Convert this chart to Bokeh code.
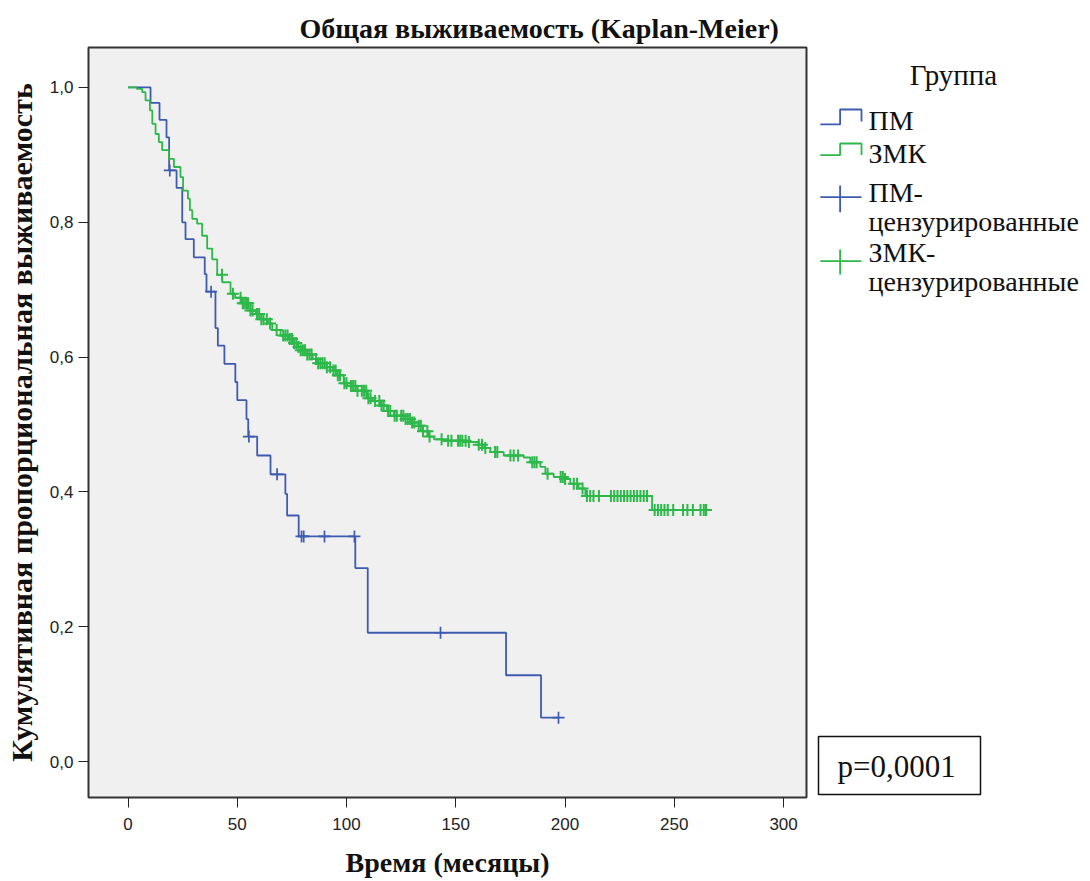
import numpy as np
from bokeh.plotting import figure
from bokeh.models import Range1d, FixedTicker, Title
from bokeh.layouts import row
from bokeh.embed import file_html
from bokeh.resources import INLINE
from bokeh.core.properties import value

# ---------------- data ----------------
# Group "ПМ" (blue): event times (months) and survival after each step
pm_time = [0, 10.3, 14.4, 17.6, 18.8, 22.2, 24.8, 26.3, 30.1, 35.1, 35.9, 40.0, 41.1,
           44.1, 49.1, 50.0, 54.2, 55.0, 59.1, 65.2, 72.0, 72.8, 78.1, 104.0, 109.7,
           173.0, 189.0]
pm_surv = [1.0, 0.977, 0.952, 0.926, 0.877, 0.851, 0.800, 0.775, 0.748, 0.723, 0.697,
           0.643, 0.617, 0.590, 0.563, 0.536, 0.508, 0.482, 0.454, 0.426, 0.397, 0.365,
           0.334, 0.287, 0.191, 0.128, 0.065]
pm_end = 197.0
pm_censored = [19.1, 38.0, 55.3, 68.2, 79.4, 80.4, 89.9, 103.6, 143.0, 197.0]

# Group "ЗМК" (green)
zmk_time = [0, 4, 6.5, 8, 10, 11.1, 12.6, 14.1, 15.6, 18.7, 21, 24, 25.2, 27.4, 28.3,
            29.4, 31.6, 33.9, 36.2, 38.5, 40.8, 43.1, 46.9, 49, 52, 56, 58.5, 61, 64,
            66, 69.8, 73.6, 75.5, 77.4, 79, 82, 84.5, 87, 91, 94, 95.7, 98.7, 100.3,
            105, 109.4, 112, 115.5, 118.5, 121.6, 126.9, 130, 132.8, 135, 137.6, 140,
            144, 156, 160.5, 163, 165.8, 171.9, 181.1, 184.1, 188.7, 191, 194.8, 199.4,
            202.4, 206.2, 209.3, 239.8]
zmk_surv = [1.0, 0.998, 0.993, 0.981, 0.966, 0.946, 0.931, 0.919, 0.907, 0.894, 0.882,
            0.867, 0.847, 0.835, 0.818, 0.805, 0.798, 0.780, 0.761, 0.745, 0.722, 0.711,
            0.694, 0.688, 0.680, 0.669, 0.664, 0.656, 0.650, 0.640, 0.632, 0.627, 0.621,
            0.615, 0.610, 0.604, 0.597, 0.591, 0.585, 0.580, 0.573, 0.561, 0.557, 0.550,
            0.539, 0.535, 0.528, 0.520, 0.513, 0.508, 0.503, 0.498, 0.490, 0.482, 0.478,
            0.476, 0.474, 0.470, 0.465, 0.459, 0.454, 0.451, 0.444, 0.437, 0.427, 0.422,
            0.419, 0.412, 0.405, 0.394, 0.373]
zmk_end = 264.5
zmk_censored = [43, 48, 51.5, 52.5, 53, 54, 54.5, 55, 56, 57, 59, 60, 61, 62, 63.5, 65,
                68, 71, 72, 73, 74, 75, 76, 77, 78, 79, 80, 81, 82, 83, 84, 86, 87, 88,
                89, 90, 91, 92.5, 94, 95, 96, 97, 99, 100, 102, 103, 104, 105, 107, 108,
                109, 110, 111, 113, 115, 116, 117, 119, 120, 122, 123, 125, 126, 127,
                128, 129, 130, 131, 133, 134, 135, 137, 138, 143.5, 146.5, 148, 151,
                152, 153, 154.5, 156, 160.5, 162, 163.5, 168, 169, 175, 176.5, 178.5,
                185, 186, 187, 192, 198, 199, 200, 204, 205.5, 208, 210, 211.5, 213,
                215.5, 221, 222.5, 224, 225.5, 227, 228.5, 230, 231.5, 233, 234.5, 236,
                237.5, 241, 242.5, 244, 245.5, 247, 249.5, 254, 256, 258.5, 262, 263.5,
                264.5]

x_ticks = [0, 50, 100, 150, 200, 250, 300]
y_ticks = [0.0, 0.2, 0.4, 0.6, 0.8, 1.0]
y_tick_labels = ["0,0", "0,2", "0,4", "0,6", "0,8", "1,0"]

title_text = "Общая выживаемость (Kaplan-Meier)"
x_label = "Время (месяцы)"
y_label = "Кумулятивная пропорциональная выживаемость"
legend_title = "Группа"
legend_labels = ["ПМ", "ЗМК", "ПМ-\nцензурированные", "ЗМК-\nцензурированные"]
p_text = "p=0,0001"

BLUE = "#3f5bb0"
GREEN = "#2db84a"
SERIF = "Liberation Serif"
SANS = "Liberation Sans"


def surv_at(times, survs, t):
    idx = np.searchsorted(np.asarray(times), np.asarray(t), side="right") - 1
    return np.asarray(survs)[idx]


# ---------------- main plot ----------------
p = figure(frame_width=718, frame_height=750,
           x_range=Range1d(-18.1, 310.5), y_range=Range1d(-0.0534, 1.0593),
           output_backend="svg", toolbar_location=None,
           min_border_left=88, min_border_right=10, min_border_top=47,
           min_border_bottom=80,
           background_fill_color="#f0f0f0", border_fill_color="white",
           outline_line_color="#333333", outline_line_width=2)
p.title = Title(text=title_text, align="left", offset=211, standoff=7,
                text_font=SERIF, text_font_style="bold", text_font_size="28px",
                text_color="#111111")
p.grid.visible = False

p.step(list(pm_time) + [pm_end], list(pm_surv) + [pm_surv[-1]], mode="after",
       line_color=BLUE, line_width=1.8)
p.step(list(zmk_time) + [zmk_end], list(zmk_surv) + [zmk_surv[-1]], mode="after",
       line_color=GREEN, line_width=1.8)
p.scatter(zmk_censored, surv_at(zmk_time, zmk_surv, zmk_censored), marker="cross",
          size=12, line_color=GREEN, line_width=2)
p.scatter(pm_censored, surv_at(pm_time, pm_surv, pm_censored), marker="cross",
          size=12, line_color=BLUE, line_width=1.7)

for ax in (p.xaxis[0], p.yaxis[0]):
    ax.axis_line_color = None
    ax.major_tick_in = 0
    ax.major_tick_out = 10
    ax.major_tick_line_color = "#222222"
    ax.minor_tick_line_color = None
    ax.major_label_text_font = SANS
    ax.major_label_text_font_size = "17px"
    ax.major_label_text_color = "#222222"
    ax.axis_label_text_font = SERIF
    ax.axis_label_text_font_style = "bold"
    ax.axis_label_text_color = "#111111"

p.xaxis.ticker = FixedTicker(ticks=x_ticks)
p.xaxis.major_label_standoff = 10
p.xaxis.axis_label = x_label
p.xaxis.axis_label_text_font_size = "28px"
p.xaxis.axis_label_standoff = 14
p.yaxis.ticker = FixedTicker(ticks=y_ticks)
p.yaxis.major_label_overrides = {t: l for t, l in zip(y_ticks, y_tick_labels)}
p.yaxis.major_label_standoff = 5
p.yaxis.axis_label = y_label
p.yaxis.axis_label_text_font_size = "30px"
p.yaxis.axis_label_standoff = 9

# ---------------- legend / annotation panel ----------------
H = 877
DY = -48   # measured vertical offset of this panel inside the row
leg = figure(frame_width=272, frame_height=H, x_range=Range1d(0, 272),
             y_range=Range1d(H, 0), output_backend="svg", toolbar_location=None,
             min_border=0, x_axis_type=None, y_axis_type=None, title=None,
             outline_line_color=None, background_fill_color="white",
             border_fill_color="white")
leg.grid.visible = False

leg.text([137], [75 + DY], text=[legend_title], text_align="center",
         text_baseline="middle", text_font=value(SERIF), text_font_size="29px",
         text_color="#111111")

sx = [3.8, 23.6, 23.6, 45, 45]
leg.line(sx, [y + DY for y in [124.9, 124.9, 110, 110, 122]], line_color=BLUE,
         line_width=1.8)
leg.line(sx, [y + DY for y in [155.6, 155.6, 144, 144, 155.6]], line_color=GREEN,
         line_width=1.8)
leg.segment([3.8, 23.6], [197.7 + DY, 186 + DY], [45, 23.6], [197.7 + DY, 212.7 + DY],
            line_color=BLUE, line_width=1.8)
leg.segment([3.8, 23.6], [261.7 + DY, 250 + DY], [45, 23.6], [261.7 + DY, 275 + DY],
            line_color=GREEN, line_width=1.8)

# first-line centre of each legend entry; continuation lines 28.7 px lower
entry_y = [120.7, 154, 193, 253]
for ey, lt in zip(entry_y, legend_labels):
    for k, line in enumerate(lt.split("\n")):
        leg.text([52], [ey + DY + 28.7 * k], text=[line], text_align="left",
                 text_baseline="middle", text_font=value(SERIF),
                 text_font_size="28px", text_color="#111111")

leg.quad(left=[2], right=[164], top=[737 + DY], bottom=[795 + DY], fill_color="white",
         line_color="#111111", line_width=1.5)
leg.text([21], [767 + DY], text=[p_text], text_align="left", text_baseline="middle",
         text_font=value(SERIF), text_font_size="31px", text_color="#111111")

layout = row(p, leg)
open("out.html", "w").write(file_html(layout, INLINE))
